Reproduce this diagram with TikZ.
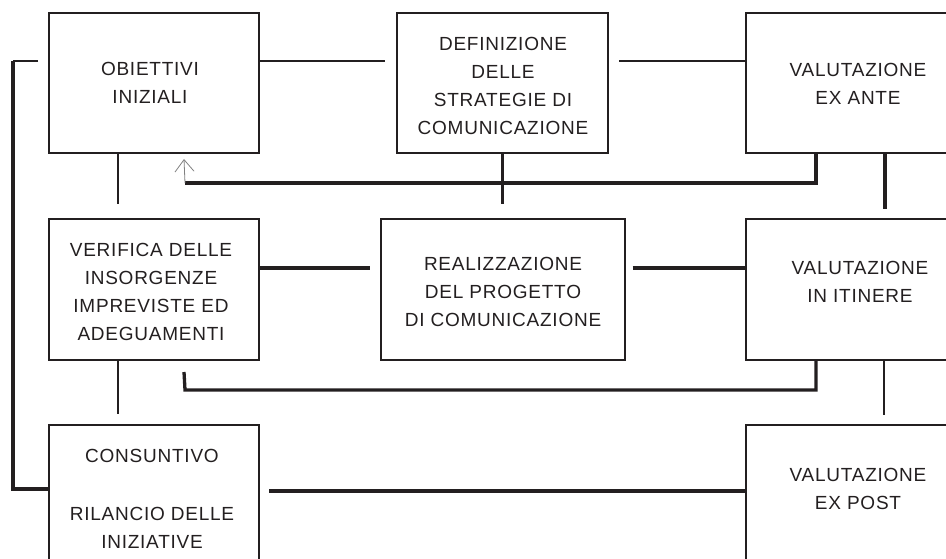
\documentclass[tikz,border=0pt]{standalone}
\usepackage{fontspec}
\setmainfont{Liberation Sans}
\usetikzlibrary{arrows.meta}
\definecolor{ink}{RGB}{35,31,32}

\begin{document}
\begin{tikzpicture}[
		x=1pt, y=-1pt,
		box/.style={rectangle, draw=ink, line width=2pt, inner sep=0pt},
		txt/.style={align=center, text=ink, inner sep=0pt, font=\addfontfeature{LetterSpace=4}\fontsize{19}{28}\selectfont},
		slim/.style={draw=ink, line width=1.3pt},
		bold/.style={draw=ink, line width=3.3pt}
	]
  \clip (0,0) rectangle (946,559);
  % boxes
  \node (obiettivi) [box, minimum width=210, minimum height=140] at (154,83) {};
  \node (definizione) [box, minimum width=211, minimum height=140] at (502.5,83) {};
  \node (exante) [box, minimum width=224, minimum height=140] at (858,83) {};
  \node (verifica) [box, minimum width=210, minimum height=141] at (154,289.5) {};
  \node (realizzazione) [box, minimum width=244, minimum height=141] at (502.5,289.5) {};
  \node (itinere) [box, minimum width=224, minimum height=141] at (858,289.5) {};
  \node (consuntivo) [box, minimum width=210, minimum height=160] at (154,505) {};
  \node (expost) [box, minimum width=224, minimum height=160] at (858,505) {};
  % texts
  \node (obiettivi_t) [txt] at (150,83) {OBIETTIVI\\INIZIALI};
  \node (definizione_t) [txt] at (503,85.5) {DEFINIZIONE\\DELLE\\STRATEGIE DI\\COMUNICAZIONE};
  \node (exante_t) [txt] at (858,84) {VALUTAZIONE\\EX ANTE};
  \node (verifica_t) [txt] at (151,292) {VERIFICA DELLE\\INSORGENZE\\IMPREVISTE ED\\ADEGUAMENTI};
  \node (realizzazione_t) [txt] at (503,292) {REALIZZAZIONE\\DEL PROGETTO\\DI COMUNICAZIONE};
  \node (itinere_t) [txt] at (860,281.5) {VALUTAZIONE\\IN ITINERE};
  \node (consuntivo_t) [txt] at (152,498.5) {CONSUNTIVO\\[30pt]RILANCIO DELLE\\INIZIATIVE};
  \node (expost_t) [txt] at (858,488.5) {VALUTAZIONE\\EX POST};
  % rows and corners
  \coordinate (row1) at (0,61);
  \coordinate (row2) at (0,268);
  \coordinate (row3) at (0,491);
  \coordinate (loopT) at (13,61);
  \coordinate (loopB) at (13,489);
  \coordinate (fb) at (185,183);
  \coordinate (rt) at (185,390);
  % top row
  \draw[slim, shorten >=11pt] (obiettivi.east |- row1) -- (definizione.west |- row1);
  \draw[slim, shorten <=10pt] (definizione.east |- row1) -- (exante.west |- row1);
  \draw[slim, shorten <=10pt] (obiettivi.west |- row1) -- (loopT);
  \draw[bold] (loopT) -- (loopB) -- (consuntivo.west |- loopB);
  \draw[slim] ([xshift=70pt]obiettivi.south west) -- ([xshift=70pt, yshift=14pt]verifica.north west);
  \draw[bold] (definizione.south) -- ([yshift=14pt]realizzazione.north);
  \draw[bold] ([xshift=140pt]exante.south west) -- ([xshift=140pt, yshift=9pt]itinere.north west);
  % feedback to the start
  \draw[bold] ([xshift=71pt]exante.south west) |- (fb);
  \draw[gray, line width=0.8pt, -{Straight Barb[length=12pt, width=19pt]}] (fb) -- ([xshift=136pt, yshift=-5pt]obiettivi.south west);
  % middle row
  \draw[bold, shorten >=10pt] (verifica.east |- row2) -- (realizzazione.west |- row2);
  \draw[bold, shorten <=7pt] (realizzazione.east |- row2) -- (itinere.west |- row2);
  \draw[slim] ([xshift=70pt]verifica.south west) -- ([xshift=70pt, yshift=10pt]consuntivo.north west);
  \draw[bold] ([xshift=136pt, yshift=-11pt]verifica.south west) -- (rt) -| ([xshift=71pt]itinere.south west);
  \draw[slim] ([xshift=139pt]itinere.south west) -- ([xshift=139pt, yshift=9pt]expost.north west);
  % bottom row
  \draw[bold, shorten <=9pt] (consuntivo.east |- row3) -- (expost.west |- row3);
\end{tikzpicture}
\end{document}
